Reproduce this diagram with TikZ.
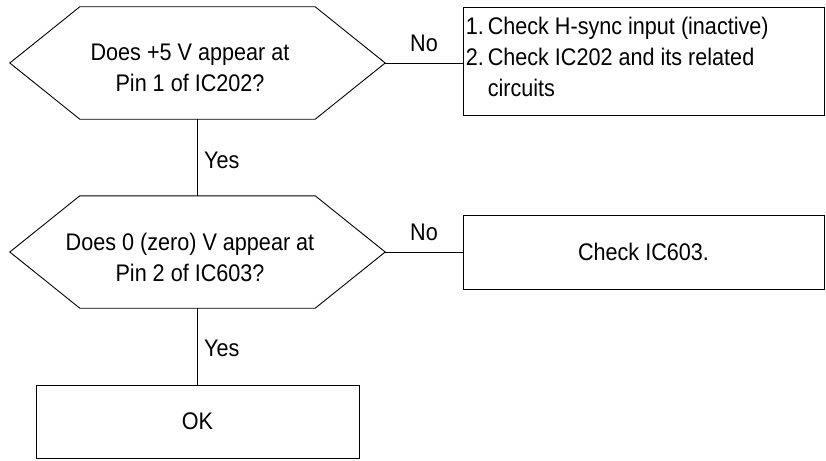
\documentclass[tikz,border=0pt]{standalone}
\usepackage{fontspec}
\setmainfont{Liberation Sans}[FakeStretch=0.9]
\usetikzlibrary{calc}
\begin{document}
\begin{tikzpicture}[x=1pt,y=-1pt,
  every node/.style={font=\fontsize{24}{31}\selectfont, inner sep=0pt},
  hexa/.style={minimum width=375, minimum height=112},
  boxx/.style={draw, line width=0.9pt},
  conn/.style={line width=0.9pt},
  lbl/.style={anchor=west}]
\useasboundingbox (0,0) rectangle (826,460);
% decisions
\node[hexa] (q1) at (197.5,63) {};
\node[hexa] (q2) at (197.5,252) {};
\foreach \n in {q1,q2}{
  \draw[conn] (\n.west) -- ([xshift=70]\n.north west) -- ([xshift=-70]\n.north east)
    -- (\n.east) -- ([xshift=-70]\n.south east) -- ([xshift=70]\n.south west) -- cycle;
}
\node[align=center] (q1t) at (190,68) {Does +5 V appear at\\Pin 1 of IC202?};
\node[align=center] (q2t) at (190,257) {Does 0 (zero) V appear at\\Pin 2 of IC603?};
% boxes
\node[boxx, minimum width=361, minimum height=108] (b1) at (643.5,61) {};
\node[anchor=west, align=left] (t1) at ([xshift=3,yshift=2]b1.west)
  {\begin{tabular}{@{}l@{\hspace{4pt}}l@{}}1.&Check H-sync input (inactive)\\2.&Check IC202 and its related\\&circuits\end{tabular}};
\node[boxx, minimum width=361, minimum height=74] (b2) at (643.5,252) {Check IC603.};
\node[boxx, minimum width=323, minimum height=73] (ok) at (197.5,421.5) {OK};
% connectors
\draw[conn] (q1.east) -- (q1.east -| b1.west);
\draw[conn] (q2.east) -- (b2.west);
\draw[conn] (q1.south) -- (q2.north);
\draw[conn] (q2.south) -- (ok.north);
% labels
\node (no1) at (424,43) {No};
\node (no2) at (424,232) {No};
\node[lbl] (yes1) at (204,160) {Yes};
\node[lbl] (yes2) at (204,348) {Yes};
\end{tikzpicture}
\end{document}
